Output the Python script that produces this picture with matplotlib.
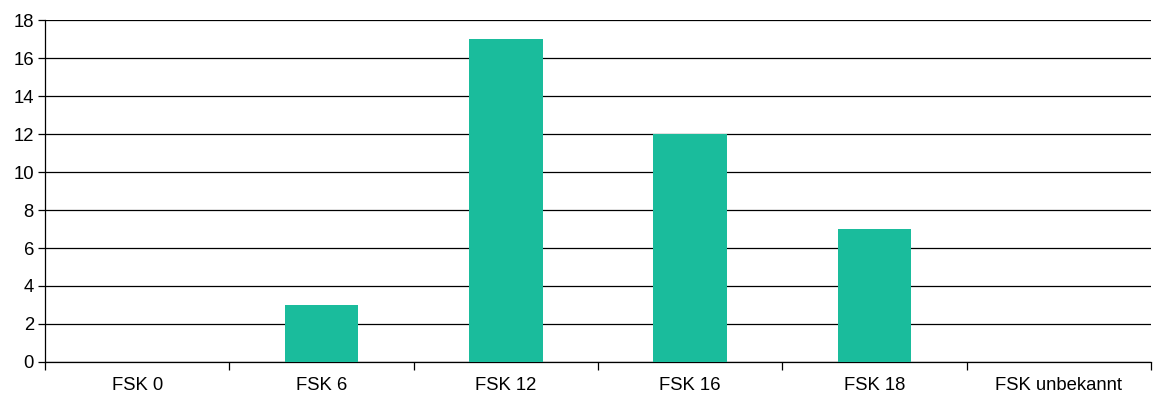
import matplotlib
matplotlib.use("Agg")
import matplotlib.pyplot as plt
import numpy as np

categories = ["FSK 0", "FSK 6", "FSK 12", "FSK 16", "FSK 18", "FSK unbekannt"]
values = [0, 3, 17, 12, 7, 0]
yticks = [0, 2, 4, 6, 8, 10, 12, 14, 16, 18]

plt.rcParams['font.family'] = ['Liberation Sans', 'DejaVu Sans']

fig = plt.figure(figsize=(11.63, 4.12), dpi=100)
ax = fig.add_axes([45/1163, 1 - 362/412, (1151-45)/1163, (362-20)/412])

x = np.arange(len(categories))
ax.bar(x, values, width=0.4, color="#1ABC9C", zorder=3)

ax.set_xlim(-0.5, len(categories) - 0.5)
ax.set_ylim(0, 18)
ax.set_yticks(yticks)
ax.yaxis.grid(True, color="black", linewidth=0.9, zorder=0)
ax.set_axisbelow(True)

ax.set_xticks(x)
ax.set_xticklabels(categories)
ax.set_xticks(np.arange(-0.5, len(categories)), minor=True)
ax.tick_params(axis='x', which='major', length=0, pad=11, labelsize=13.3)
ax.tick_params(axis='x', which='minor', length=6, width=0.9, direction='out')
ax.tick_params(axis='y', length=5, width=0.9, labelsize=13.3, pad=3)

for s in ['top', 'right']:
    ax.spines[s].set_visible(False)
ax.spines['left'].set_linewidth(0.9)
ax.spines['bottom'].set_linewidth(0.9)

fig.savefig("out.png", dpi=100)
